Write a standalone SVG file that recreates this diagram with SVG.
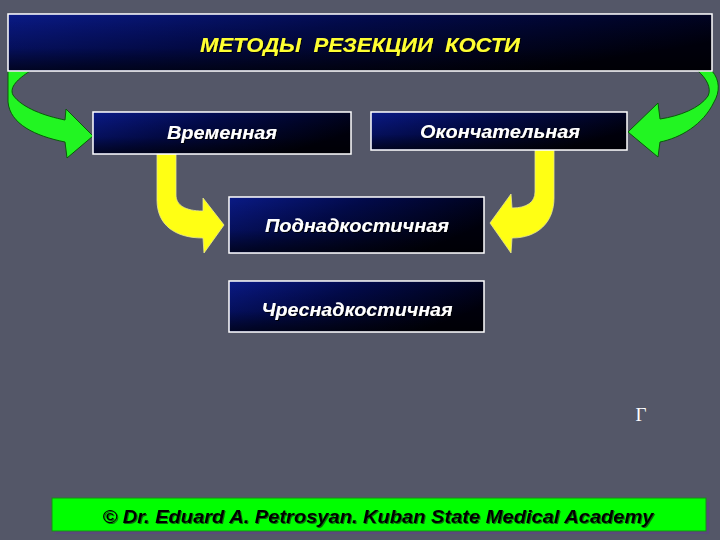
<svg xmlns="http://www.w3.org/2000/svg" width="720" height="540" viewBox="0 0 720 540">
<defs>
<linearGradient id="boxg" x1="0" y1="0" x2="1" y2="0.5">
<stop offset="0" stop-color="#0a1a86"/>
<stop offset="0.45" stop-color="#020a4a"/>
<stop offset="1" stop-color="#00000c"/>
</linearGradient>
<linearGradient id="boxv" x1="0" y1="0" x2="0" y2="1">
<stop offset="0" stop-color="#000" stop-opacity="0"/>
<stop offset="0.6" stop-color="#000" stop-opacity="0.1"/>
<stop offset="1" stop-color="#000" stop-opacity="0.55"/>
</linearGradient>
<filter id="ts" x="-5%" y="-30%" width="110%" height="160%">
<feDropShadow dx="1" dy="1" stdDeviation="0.6" flood-color="#000" flood-opacity="0.9"/>
</filter>
<filter id="fs" x="-5%" y="-30%" width="110%" height="160%">
<feDropShadow dx="1" dy="1" stdDeviation="0.4" flood-color="#0a5a0a" flood-opacity="0.9"/>
</filter>
</defs>
<style>
.box{fill:url(#boxg);stroke:#ffffff;stroke-width:1.5}
.shade{fill:url(#boxv);stroke:none}
.lbl{font-family:"Liberation Sans",Arial,sans-serif;font-style:italic;font-weight:bold;fill:#ffffff;text-anchor:middle;filter:url(#ts)}
.title{font-family:"Liberation Sans",Arial,sans-serif;font-style:italic;font-weight:bold;fill:#ffff33;text-anchor:middle;filter:url(#ts)}
.green{fill:#22f522;stroke:#0a5a0a;stroke-width:1}
.yellow{fill:#ffff14;stroke:#e8e890;stroke-width:0.8}
</style>
<rect width="720" height="540" fill="#545768"/>

<g id="connectors">
<path class="green" d="M 8,71 L 30,71 C 18,79 9,87 13,95 C 22,108 45,116 65,120 L 66,109 L 93,136 L 67,158 L 65,142 C 35,136 10,124 8,102 Z"/>
<path class="green" d="M 698,71 L 712,71 C 720,80 720,92 714,102 C 703,125 680,138 660,142 L 658,157 L 628,132 L 658,103 L 660,119 C 680,116 700,108 708,96 C 712,88 706,78 698,71 Z"/>
<path class="yellow" d="M 157,154 L 176,154 L 176,195 C 176,205 185,211 203,211 L 203,198 L 224,225 L 204,253 L 203,238 C 175,238 157,225 157,200 Z"/>
<path class="yellow" d="M 535,150 L 554,150 L 554,198 C 554,222 538,238 512,238 L 511,253 L 490,223 L 511,194 L 512,208 C 527,208 535,202 535,192 Z"/>
</g>

<g id="title">
<rect class="box" x="8" y="14" width="704" height="57"/>
<rect class="shade" x="9" y="15" width="702" height="55"/>
<text class="title" x="360" y="52" font-size="21" textLength="320" lengthAdjust="spacingAndGlyphs" xml:space="preserve">МЕТОДЫ  РЕЗЕКЦИИ  КОСТИ</text>
</g>

<g id="node-vremennaya">
<rect class="box" x="93" y="112" width="258" height="42"/>
<rect class="shade" x="94" y="113" width="256" height="40"/>
<text class="lbl" x="222" y="139" font-size="18" textLength="110" lengthAdjust="spacingAndGlyphs">Временная</text>
</g>

<g id="node-okonchatelnaya">
<rect class="box" x="371" y="112" width="256" height="38"/>
<rect class="shade" x="372" y="113" width="254" height="36"/>
<text class="lbl" x="500" y="138" font-size="18" textLength="160" lengthAdjust="spacingAndGlyphs">Окончательная</text>
</g>

<g id="node-podnadkostichnaya">
<rect class="box" x="229" y="197" width="255" height="56"/>
<rect class="shade" x="230" y="198" width="253" height="54"/>
<text class="lbl" x="357" y="232" font-size="18" textLength="184" lengthAdjust="spacingAndGlyphs">Поднадкостичная</text>
</g>

<g id="node-chresnadkostichnaya">
<rect class="box" x="229" y="281" width="255" height="51"/>
<rect class="shade" x="230" y="282" width="253" height="49"/>
<text class="lbl" x="357" y="316" font-size="18" textLength="191" lengthAdjust="spacingAndGlyphs">Чреснадкостичная</text>
</g>

<text x="641" y="421" font-family="'Liberation Serif','Times New Roman',serif" font-size="19" fill="#ffffff" text-anchor="middle">Г</text>

<g id="footer">
<rect x="55" y="502" width="654" height="32" fill="#5a4a7a"/>
<rect x="52" y="498" width="654" height="33" fill="#00ff00" stroke="#1a8a1a" stroke-width="1"/>
<text x="378" y="523" font-family="'Liberation Sans',Arial,sans-serif" font-style="italic" font-weight="bold" font-size="19" fill="#000000" text-anchor="middle" textLength="551" lengthAdjust="spacingAndGlyphs" filter="url(#fs)">© Dr. Eduard A. Petrosyan. Kuban State Medical Academy</text>
</g>
</svg>
